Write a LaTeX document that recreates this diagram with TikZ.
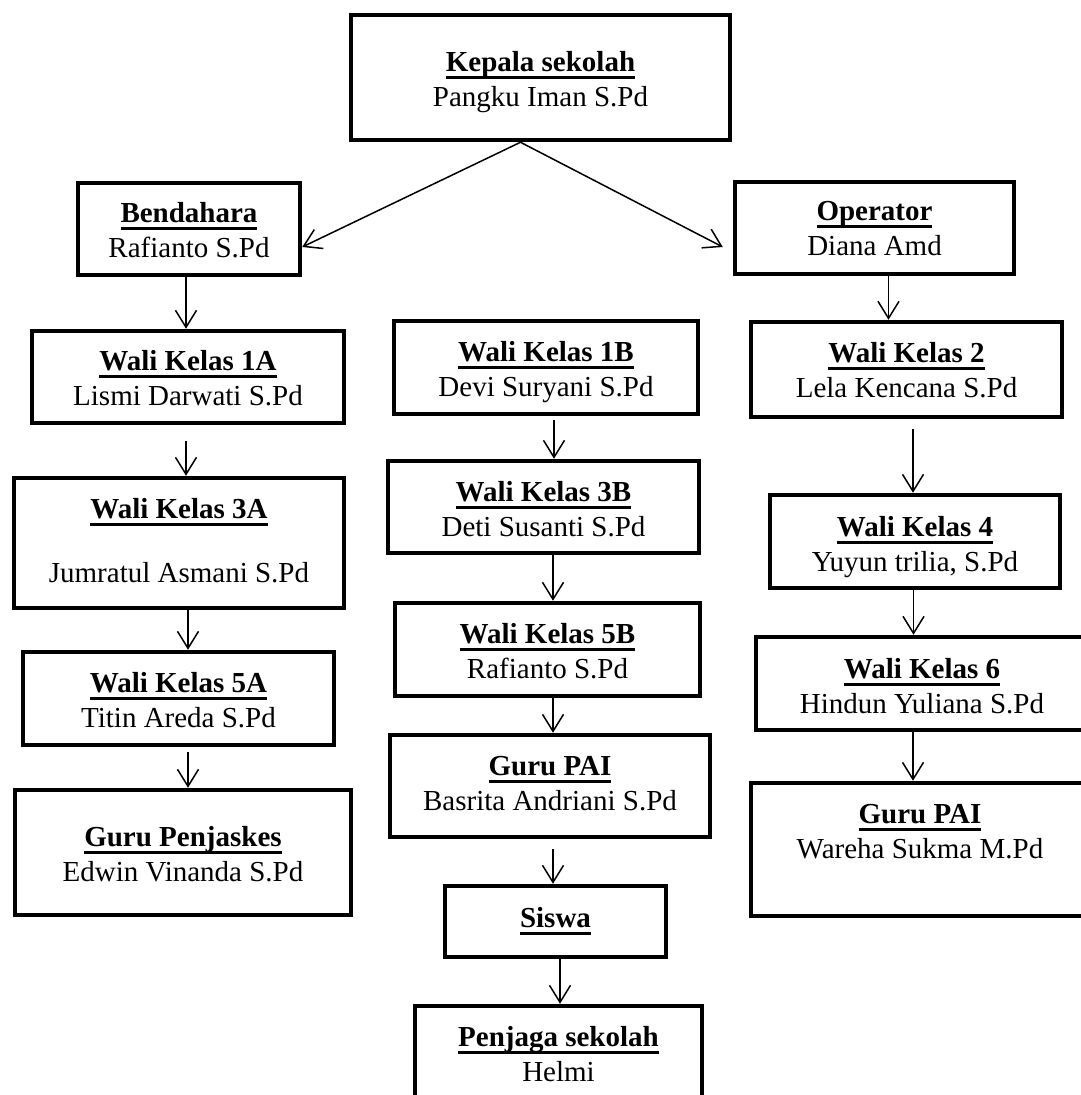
\documentclass[tikz,border=0pt]{standalone}
\usepackage{fontspec}
\setmainfont{Liberation Serif}
\usetikzlibrary{arrows.meta}
\newcommand\ulin[1]{\setbox0=\hbox{#1}\rlap{\rule[-7.5pt]{\wd0}{3pt}}\box0}
\newcommand\cardtext[4][0pt]{\raisebox{-#2}[\height][\depth]{\begin{tabular}{@{}c@{}}\ulin{\bfseries #3}\\[#1]#4\end{tabular}}}
\newcommand\cardone[2]{\raisebox{-#1}[\height][\depth]{\begin{tabular}{@{}c@{}}\ulin{\bfseries #2}\end{tabular}}}
\begin{document}
\begin{tikzpicture}[x=1pt,y=-1pt,
  box/.style={draw, line width=4.5pt, inner sep=0pt, font=\fontsize{29pt}{35pt}\selectfont},
  arr/.style={line width=1.5pt, -{Straight Barb[length=17pt,width=21pt]}}]
\fill[white] (0,0) rectangle (1081,1095);
\useasboundingbox (0,0) rectangle (1081,1095);

\node[box, minimum width=379pt, minimum height=125pt] (kepala) at (540.5,77.5) {\cardtext{4pt}{Kepala sekolah}{Pangku Iman S.Pd}};
\node[box, minimum width=222pt, minimum height=92pt] (bend) at (189,229) {\cardtext{4.2pt}{Bendahara}{Rafianto S.Pd}};
\node[box, minimum width=279pt, minimum height=92pt] (oper) at (874.5,228) {\cardtext{3.2pt}{Operator}{Diana Amd}};
\node[box, minimum width=312pt, minimum height=92pt] (wa) at (188,377) {\cardtext{4.2pt}{Wali Kelas 1A}{Lismi Darwati S.Pd}};
\node[box, minimum width=304pt, minimum height=93pt] (wb) at (546,367.5) {\cardtext{4.7pt}{Wali Kelas 1B}{Devi Suryani S.Pd}};
\node[box, minimum width=311pt, minimum height=95pt] (w2) at (906.5,369.5) {\cardtext{3.7pt}{Wali Kelas 2}{Lela Kencana S.Pd}};
\node[box, minimum width=330pt, minimum height=130pt] (w3a) at (179,543) {\cardtext[28.4pt]{0.3pt}{Wali Kelas 3A}{Jumratul Asmani S.Pd}};
\node[box, minimum width=311pt, minimum height=92pt] (w3b) at (543.5,507) {\cardtext{5.2pt}{Wali Kelas 3B}{Deti Susanti S.Pd}};
\node[box, minimum width=290pt, minimum height=93pt] (w4) at (915,541.5) {\cardtext{5.7pt}{Wali Kelas 4}{Yuyun trilia, S.Pd}};
\node[box, minimum width=311pt, minimum height=93pt] (w5a) at (178.5,698.5) {\cardtext{4.7pt}{Wali Kelas 5A}{Titin Areda S.Pd}};
\node[box, minimum width=305pt, minimum height=93pt] (w5b) at (547.5,649.5) {\cardtext{4.3pt}{Wali Kelas 5B}{Rafianto S.Pd}};
\node[box, minimum width=332pt, minimum height=93pt] (w6) at (922,683.5) {\cardtext{5.3pt}{Wali Kelas 6}{Hindun Yuliana S.Pd}};
\node[box, minimum width=336pt, minimum height=125pt] (penj) at (183,852.5) {\cardtext{4.7pt}{Guru Penjaskes}{Edwin Vinanda S.Pd}};
\node[box, minimum width=320pt, minimum height=102pt] (paic) at (550,786) {\cardtext{-0.5pt}{Guru PAI}{Basrita Andriani S.Pd}};
\node[box, minimum width=338pt, minimum height=133pt] (pair) at (920,849.5) {\cardtext{-15.7pt}{Guru PAI}{Wareha Sukma M.Pd}};
\node[box, minimum width=221pt, minimum height=71pt] (siswa) at (555.5,921.5) {\cardone{-1.2pt}{Siswa}};
\node[box, minimum width=287pt, minimum height=114pt] (penjaga) at (558.5,1063) {\cardtext{-5.8pt}{Penjaga sekolah}{Helmi}};

\coordinate (apex) at ([xshift=-20pt]kepala.south);
\draw[arr] (apex) -- ([yshift=-18pt]bend.east);
\draw[arr] (apex) -- ([xshift=-10pt,yshift=-19pt]oper.west);

\coordinate (s1) at ([xshift=-3pt]bend.south);
\draw[arr] (s1) -- (s1 |- wa.north);
\coordinate (s2) at ([xshift=14pt]oper.south);
\draw[arr] (s2) -- (s2 |- w2.north);
\coordinate (s3) at ([xshift=-2pt]wa.south);
\draw[arr, shorten <=16pt] (s3) -- (s3 |- w3a.north);
\coordinate (s4) at ([xshift=9pt]w3a.south);
\draw[arr] (s4) -- (s4 |- w5a.north);
\coordinate (s5) at ([xshift=9.5pt]w5a.south);
\draw[arr, shorten <=5pt] (s5) -- (s5 |- penj.north);
\coordinate (s6) at ([xshift=8pt]wb.south);
\draw[arr, shorten <=4pt] (s6) -- (s6 |- w3b.north);
\coordinate (s7) at ([xshift=9.5pt]w3b.south);
\draw[arr] (s7) -- (s7 |- w5b.north);
\coordinate (s8) at ([xshift=5.5pt]w5b.south);
\draw[arr] (s8) -- (s8 |- paic.north);
\coordinate (s9) at ([xshift=3pt]paic.south);
\draw[arr, shorten <=10pt] (s9) -- (s9 |- siswa.north);
\coordinate (s10) at ([xshift=4.5pt]siswa.south);
\draw[arr] (s10) -- (s10 |- penjaga.north);
\coordinate (s11) at ([xshift=6.5pt]w2.south);
\draw[arr, shorten <=10pt] (s11) -- (s11 |- w4.north);
\coordinate (s12) at ([xshift=-1.5pt]w4.south);
\draw[arr] (s12) -- (s12 |- w6.north);
\coordinate (s13) at ([xshift=-9pt]w6.south);
\draw[arr] (s13) -- (s13 |- pair.north);
\end{tikzpicture}
\end{document}
